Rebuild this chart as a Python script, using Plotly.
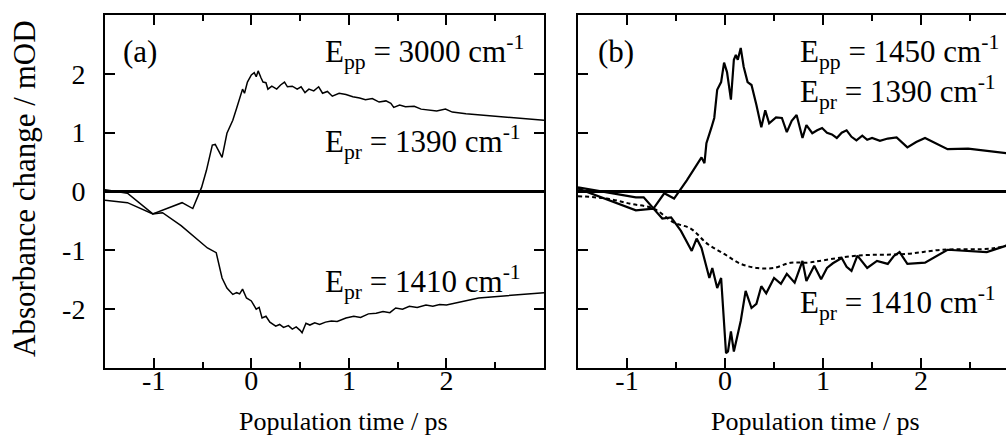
import plotly.graph_objects as go

# Panel (a): E_pp = 3000 cm-1
a_t_1390 = [-1.5, -1.27, -1.01, -0.71, -0.6, -0.51, -0.46, -0.40, -0.37, -0.30, -0.25, -0.19,
            -0.15, -0.11, -0.09, -0.07, -0.04, 0.0, 0.03, 0.05, 0.07, 0.10, 0.12, 0.15, 0.17,
            0.21, 0.26, 0.30, 0.34, 0.37, 0.42, 0.47, 0.51, 0.55, 0.59, 0.64, 0.69, 0.73, 0.78,
            0.83, 0.90, 0.97, 1.04, 1.11, 1.17, 1.24, 1.31, 1.38, 1.43, 1.46, 1.52, 1.58, 1.67,
            1.74, 1.82, 1.90, 1.99, 2.06, 2.20, 2.47, 3.0]
a_v_1390 = [0.03, -0.03, -0.38, -0.19, -0.29, 0.07, 0.36, 0.79, 0.80, 0.58, 0.99, 1.21,
            1.42, 1.61, 1.74, 1.67, 1.86, 1.98, 2.02, 1.95, 2.05, 1.93, 1.86, 1.85, 1.74,
            1.79, 1.74, 1.81, 1.86, 1.78, 1.79, 1.74, 1.78, 1.68, 1.74, 1.71, 1.78, 1.67, 1.70,
            1.62, 1.67, 1.65, 1.61, 1.59, 1.56, 1.58, 1.52, 1.54, 1.50, 1.43, 1.47, 1.44, 1.45,
            1.40, 1.38, 1.37, 1.40, 1.35, 1.32, 1.28, 1.21]

a_t_1410 = [-1.5, -1.27, -1.01, -0.91, -0.72, -0.56, -0.45, -0.36, -0.30, -0.25, -0.19, -0.15,
            -0.12, -0.09, -0.05, 0.0, 0.05, 0.08, 0.11, 0.15, 0.19, 0.25, 0.29, 0.33, 0.38,
            0.42, 0.46, 0.50, 0.52, 0.56, 0.60, 0.65, 0.70, 0.76, 0.82, 0.88, 0.97, 1.05, 1.12,
            1.20, 1.28, 1.35, 1.42, 1.48, 1.55, 1.62, 1.70, 1.79, 1.86, 1.93, 2.0, 2.33, 3.0]
a_v_1410 = [-0.15, -0.19, -0.38, -0.36, -0.58, -0.80, -0.96, -1.04, -1.47, -1.64, -1.75, -1.72,
            -1.74, -1.66, -1.81, -1.86, -2.0, -1.97, -2.15, -2.12, -2.22, -2.29, -2.26, -2.31, -2.28,
            -2.34, -2.30, -2.36, -2.40, -2.24, -2.27, -2.23, -2.26, -2.22, -2.20, -2.21, -2.15, -2.12, -2.14,
            -2.08, -2.07, -2.04, -2.06, -1.98, -2.00, -1.95, -1.97, -1.93, -1.95, -1.92, -1.93, -1.81, -1.72]

# Panel (b): E_pp = 1450 cm-1
b_t_1390 = [-1.5, -0.91, -0.83, -0.73, -0.62, -0.52, -0.39, -0.24, -0.21, -0.19, -0.14, -0.11,
            -0.08, -0.04, -0.01, 0.02, 0.06, 0.09, 0.11, 0.13, 0.16, 0.19, 0.23, 0.27, 0.32,
            0.37, 0.41, 0.45, 0.52, 0.58, 0.63, 0.68, 0.73, 0.79, 0.83, 0.89, 0.94, 0.99, 1.04,
            1.09, 1.14, 1.19, 1.24, 1.29, 1.34, 1.40, 1.45, 1.50, 1.58, 1.66, 1.75, 1.86, 1.95,
            2.04, 2.27, 2.48, 2.87]
b_v_1390 = [0.07, -0.10, -0.10, -0.29, -0.03, -0.12, 0.19, 0.58, 0.48, 0.82, 1.08, 1.25,
            1.73, 1.86, 2.19, 2.03, 1.56, 2.24, 2.32, 2.24, 2.44, 2.12, 1.86, 1.81, 1.47,
            1.09, 1.38, 1.16, 1.26, 1.25, 1.01, 1.20, 1.30, 0.91, 1.13, 0.99, 1.04, 1.08, 1.00,
            0.97, 0.91, 1.00, 1.04, 0.93, 0.87, 0.95, 0.88, 0.91, 0.86, 0.90, 0.92, 0.75, 0.84,
            0.91, 0.72, 0.73, 0.65]

b_t_1410 = [-1.5, -0.91, -0.73, -0.64, -0.55, -0.45, -0.34, -0.29, -0.24, -0.16, -0.13, -0.08,
            -0.04, 0.01, 0.03, 0.06, 0.09, 0.16, 0.21, 0.27, 0.32, 0.37, 0.42, 0.50, 0.57,
            0.63, 0.71, 0.79, 0.83, 0.91, 0.98, 1.04, 1.10, 1.19, 1.24, 1.29, 1.35, 1.40, 1.45,
            1.55, 1.66, 1.72, 1.78, 1.86, 2.04, 2.27, 2.67, 2.87]
b_v_1410 = [0.05, -0.32, -0.29, -0.46, -0.44, -0.67, -1.01, -0.80, -0.96, -1.47, -1.30, -1.64,
            -1.47, -2.75, -2.72, -2.38, -2.72, -2.20, -1.69, -1.98, -1.91, -1.61, -1.73, -1.47, -1.57,
            -1.40, -1.55, -1.18, -1.52, -1.26, -1.49, -1.30, -1.22, -1.13, -1.28, -1.35, -1.09, -1.20, -1.30,
            -1.18, -1.23, -1.10, -1.03, -1.23, -1.21, -0.99, -1.03, -0.92]

b_t_ref = [-1.5, -1.21, -0.96, -0.73, -0.52, -0.35, -0.18, -0.01, 0.16, 0.33, 0.5, 0.67,
           0.84, 1.0, 1.35, 1.86, 2.21, 2.72, 2.87]
b_v_ref = [-0.08, -0.12, -0.21, -0.29, -0.53, -0.63, -0.89, -1.06, -1.23, -1.30, -1.30, -1.21,
           -1.21, -1.17, -1.09, -1.06, -0.99, -0.97, -0.92]

x_ticks = [-1, 0, 1, 2]
x_tick_text = ["-1", "0", "1", "2"]
y_ticks = [-2, -1, 0, 1, 2]
y_tick_text = ["-2", "-1", "0", "1", "2"]

FONT = "Liberation Serif, Times New Roman, serif"
W, H = 1006, 441
ML, MR, MT, MB = 105, 0, 15, 73
PW = W - ML - MR

fig = go.Figure()
fig.add_trace(go.Scatter(x=a_t_1390, y=a_v_1390, mode="lines", line=dict(color="black", width=1.5),
                         xaxis="x", yaxis="y", showlegend=False))
fig.add_trace(go.Scatter(x=a_t_1410, y=a_v_1410, mode="lines", line=dict(color="black", width=1.5),
                         xaxis="x", yaxis="y", showlegend=False))
fig.add_trace(go.Scatter(x=b_t_ref, y=b_v_ref, mode="lines", line_shape="spline",
                         line=dict(color="black", width=2, dash="4px,3px"),
                         xaxis="x2", yaxis="y2", showlegend=False))
fig.add_trace(go.Scatter(x=b_t_1390, y=b_v_1390, mode="lines", line=dict(color="black", width=2.2),
                         xaxis="x2", yaxis="y2", showlegend=False))
fig.add_trace(go.Scatter(x=b_t_1410, y=b_v_1410, mode="lines", line=dict(color="black", width=2.2),
                         xaxis="x2", yaxis="y2", showlegend=False))

tickfont = dict(family=FONT, size=28, color="black")
xcommon = dict(tickmode="array", tickvals=x_ticks, ticktext=x_tick_text, ticks="inside",
               ticklen=10, tickwidth=2, tickcolor="black", showline=True, linewidth=2,
               linecolor="black", showgrid=False, zeroline=False, tickfont=tickfont,
               minor=dict(tickvals=[-1.5, -0.5, 0.5, 1.5, 2.5], ticks="inside", ticklen=6,
                          tickwidth=2, tickcolor="black", showgrid=False),
               ticklabelstandoff=-14)
ycommon = dict(range=[-3, 3], tickmode="array", tickvals=y_ticks, ticks="inside", ticklen=10,
               tickwidth=2, tickcolor="black", showline=True, linewidth=2, linecolor="black",
               showgrid=False, zeroline=True, zerolinecolor="black", zerolinewidth=2.5,
               tickfont=tickfont)

a_right = (544 - ML) / PW
b_left = (578 - ML) / PW

fig.update_layout(
    width=W, height=H, autosize=False,
    margin=dict(l=ML, r=MR, t=MT, b=MB, pad=0),
    paper_bgcolor="white", plot_bgcolor="white",
    font=dict(family=FONT, color="black"),
    xaxis=dict(domain=[0, a_right], range=[-1.5, 3.0], mirror="allticks", anchor="y", **xcommon),
    yaxis=dict(domain=[0, 1], mirror="allticks", anchor="x", ticktext=y_tick_text,
               ticklabelstandoff=12, **ycommon),
    xaxis2=dict(domain=[b_left, 1], range=[-1.5, 2.866], mirror="allticks", anchor="y2", **xcommon),
    yaxis2=dict(domain=[0, 1], mirror=False, anchor="x2", showticklabels=False, **ycommon),
)


def px_x(x):
    return (x - ML) / PW


def px_y(y):
    return (H - MB - y) / (H - MT - MB)


label_font = dict(family=FONT, size=31, color="black")
notes = [
    ("(a)", 121, 52, "left"),
    ("E<sub>pp</sub> = 3000 cm<sup>-1</sup>", 323, 52, "left"),
    ("E<sub>pr</sub> = 1390 cm<sup>-1</sup>", 323, 142, "left"),
    ("E<sub>pr</sub> = 1410 cm<sup>-1</sup>", 323, 282, "left"),
    ("(b)", 596, 52, "left"),
    ("E<sub>pp</sub> = 1450 cm<sup>-1</sup>", 798, 52, "left"),
    ("E<sub>pr</sub> = 1390 cm<sup>-1</sup>", 798, 92, "left"),
    ("E<sub>pr</sub> = 1410 cm<sup>-1</sup>", 798, 303, "left"),
]
for text, x, y, xa in notes:
    fig.add_annotation(text=text, x=px_x(x), y=px_y(y), xref="paper", yref="paper",
                       xanchor=xa, yanchor="middle", showarrow=False, font=label_font)

title_font = dict(family=FONT, size=26, color="black")
for cx in (343, 815):
    fig.add_annotation(text="Population time / ps", x=px_x(cx), y=px_y(421), xref="paper",
                       yref="paper", xanchor="center", yanchor="middle", showarrow=False,
                       font=title_font)
fig.add_annotation(text="Absorbance change / mOD", x=px_x(24), y=px_y(189), xref="paper",
                   yref="paper", xanchor="center", yanchor="middle", textangle=-90,
                   showarrow=False, font=dict(family=FONT, size=31, color="black"))

fig.write_html("out.html")
